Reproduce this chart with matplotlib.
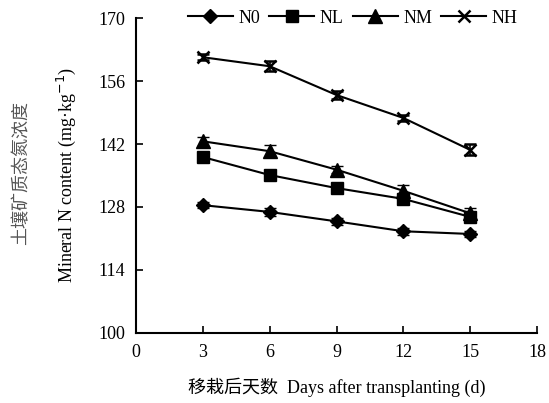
import matplotlib
matplotlib.use("Agg")
import matplotlib.pyplot as plt
from matplotlib.lines import Line2D

days = [3, 6, 9, 12, 15]
n0 = [128.4, 126.9, 124.8, 122.6, 122.0]
nl = [139.1, 135.1, 132.2, 129.8, 125.8]
nm = [142.6, 140.4, 136.3, 131.6, 126.6]
nh = [161.3, 159.3, 152.9, 147.8, 140.7]
n0_err = [0.6, 0.9, 0.8, 0.8, 0.7]
nl_err = [0.8, 0.7, 0.9, 1.0, 1.0]
nm_err = [1.0, 1.3, 0.8, 1.2, 1.2]
nh_err = [0.7, 1.1, 0.8, 0.6, 1.2]

series = [
    ("N0", n0, n0_err, "D", 7.5),
    ("NL", nl, nl_err, "s", 9),
    ("NM", nm, nm_err, "^", 9.5),
    ("NH", nh, nh_err, "x", 9),
]

plt.rcParams['font.family'] = ['Liberation Serif', 'Noto Sans CJK SC']
fig = plt.figure(figsize=(5.49, 4.03), dpi=100)
ax = fig.add_axes([0.248, 0.174, 0.73, 0.781])

handles = []
for name, vals, err, mk, ms in series:
    mew = 1.8 if mk == "x" else 1
    ax.errorbar(days, vals, yerr=err, color="black", marker=mk, markersize=ms,
                mew=mew, lw=1.5, capsize=4.5, capthick=1.2, elinewidth=1.2)
    handles.append(Line2D([], [], color="black", marker=mk, markersize=ms,
                          mew=mew, lw=1.5, label=name))

ax.set_xlim(0, 18)
ax.set_ylim(100, 170)
ax.set_xticks([0, 3, 6, 9, 12, 15, 18])
ax.set_yticks([100, 114, 128, 142, 156, 170])
ax.tick_params(direction="in", length=5, width=1.2, labelsize=13, pad=8)
ax.spines["top"].set_visible(False)
ax.spines["right"].set_visible(False)
ax.spines["left"].set_linewidth(1.5)
ax.spines["bottom"].set_linewidth(1.5)

ax.set_xlabel("移栽后天数  Days after transplanting (d)", fontsize=13, labelpad=12)
ax.set_ylabel("Mineral N content (mg·kg$^{-1}$)", fontsize=13, labelpad=14)
fig.text(0.04, 0.57, "土壤矿质态氮浓度", rotation=90, ha="center", va="center",
         fontsize=13, color="#555555")

ax.legend(handles=handles, loc="center", bbox_to_anchor=(0.54, 1.0), ncol=4,
          frameon=False, fontsize=13, handlelength=2.5, columnspacing=0.5,
          handletextpad=0.3)

fig.savefig("out.png", dpi=100)
